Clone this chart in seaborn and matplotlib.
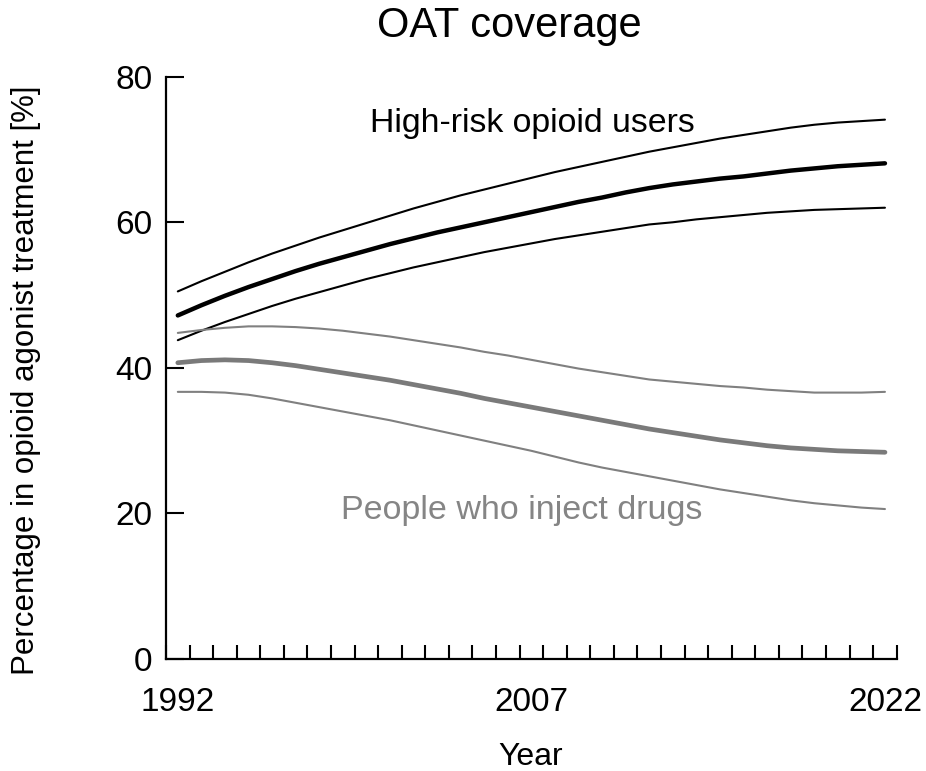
import matplotlib
matplotlib.use("Agg")
import matplotlib.pyplot as plt
import seaborn as sns
import pandas as pd
import numpy as np

sns.set_theme(style="white")
plt.rcParams["font.family"] = ["Liberation Sans", "DejaVu Sans"]
plt.rcParams["text.color"] = "black"
plt.rcParams["xtick.color"] = "black"
plt.rcParams["ytick.color"] = "black"

# Years (values plotted at mid-year)
years = list(range(1992, 2023))

# High-risk opioid users: estimate and uncertainty bounds (%)
hr_mid = [47.2, 48.6, 49.9, 51.1, 52.2, 53.3, 54.3, 55.2, 56.1, 57.0,
          57.8, 58.6, 59.3, 60.0, 60.7, 61.4, 62.1, 62.8, 63.4, 64.1,
          64.7, 65.2, 65.6, 66.0, 66.3, 66.7, 67.1, 67.4, 67.7, 67.9, 68.1]
hr_upper = [50.5, 51.9, 53.2, 54.5, 55.7, 56.8, 57.9, 58.9, 59.9, 60.9,
            61.9, 62.8, 63.7, 64.5, 65.3, 66.1, 66.9, 67.6, 68.3, 69.0,
            69.7, 70.3, 70.9, 71.5, 72.0, 72.5, 73.0, 73.4, 73.7, 73.9, 74.1]
hr_lower = [43.8, 45.1, 46.3, 47.4, 48.5, 49.5, 50.4, 51.3, 52.2, 53.0,
            53.8, 54.5, 55.2, 55.9, 56.5, 57.1, 57.7, 58.2, 58.7, 59.2,
            59.7, 60.0, 60.4, 60.7, 61.0, 61.3, 61.5, 61.7, 61.8, 61.9, 62.0]

# People who inject drugs: estimate and uncertainty bounds (%)
pwid_mid = [40.7, 41.0, 41.1, 41.0, 40.7, 40.3, 39.8, 39.3, 38.8, 38.3,
            37.7, 37.1, 36.5, 35.8, 35.2, 34.6, 34.0, 33.4, 32.8, 32.2,
            31.6, 31.1, 30.6, 30.1, 29.7, 29.3, 29.0, 28.8, 28.6, 28.5, 28.4]
pwid_upper = [44.8, 45.2, 45.5, 45.7, 45.7, 45.6, 45.4, 45.1, 44.7, 44.3,
              43.8, 43.3, 42.8, 42.2, 41.7, 41.1, 40.5, 39.9, 39.4, 38.9,
              38.4, 38.1, 37.8, 37.5, 37.3, 37.0, 36.8, 36.6, 36.6, 36.6, 36.7]
pwid_lower = [36.7, 36.7, 36.6, 36.3, 35.8, 35.2, 34.6, 34.0, 33.4, 32.8,
              32.1, 31.4, 30.7, 30.0, 29.3, 28.6, 27.8, 27.0, 26.3, 25.7,
              25.1, 24.5, 23.9, 23.3, 22.8, 22.3, 21.8, 21.4, 21.1, 20.8, 20.6]

x_labels = ["1992", "2007", "2022"]
y_ticks = [0, 20, 40, 60, 80]

fig = plt.figure(figsize=(9.26, 7.71), dpi=100)
ax = fig.add_axes([0.1793, 0.1453, 0.7891, 0.7552])

xpos = np.array(years) + 0.5
series = [
    (hr_upper, "black", 1.5),
    (hr_lower, "black", 1.5),
    (hr_mid, "black", 3.2),
    (pwid_upper, "#808080", 1.5),
    (pwid_lower, "#808080", 1.5),
    (pwid_mid, "#7a7a7a", 3.4),
]
for vals, col, lw in series:
    df = pd.DataFrame({"year": xpos, "value": vals})
    sns.lineplot(data=df, x="year", y="value", color=col, linewidth=lw,
                 ax=ax, legend=False)

ax.set_xlim(1992, 2023)
ax.set_ylim(0, 80)

# year tick marks at boundaries, labels at mid-year
ax.set_xticks([int(l) + 0.5 for l in x_labels])
ax.set_xticklabels(x_labels)
ax.set_xticks(np.arange(1992, 2024), minor=True)
ax.tick_params(axis="x", which="major", length=0, pad=20, labelsize=24,
               labelcolor="black")
ax.tick_params(axis="x", which="minor", direction="in", length=10,
               width=1.5, color="black", bottom=True)

ax.set_yticks(y_ticks)
ax.tick_params(axis="y", which="major", direction="in", length=13,
               width=1.5, color="black", pad=10, labelsize=24, left=True,
               labelcolor="black")

for side in ["top", "right"]:
    ax.spines[side].set_visible(False)
for side in ["left", "bottom"]:
    ax.spines[side].set_color("black")
    ax.spines[side].set_linewidth(1.6)

ax.set_xlabel("")
ax.set_ylabel("")

fig.text(0.5497, 1 - 37.5 / 771, "OAT coverage", ha="center", va="baseline",
         fontsize=30, color="black")
fig.text(0.028, 0.507, "Percentage in opioid agonist treatment [%]",
         rotation=90, ha="center", va="center", fontsize=22.5, color="black")
fig.text(0.5734, 1 - 765 / 771, "Year", ha="center", va="baseline",
         fontsize=23, color="black")

ax.text(2007.55, 72.4, "High-risk opioid users", ha="center", va="baseline",
        fontsize=24.4, color="black")
ax.text(2007.09, 19.2, "People who inject drugs", ha="center", va="baseline",
        fontsize=24.5, color="#858585")

fig.savefig("out.png", dpi=100)
